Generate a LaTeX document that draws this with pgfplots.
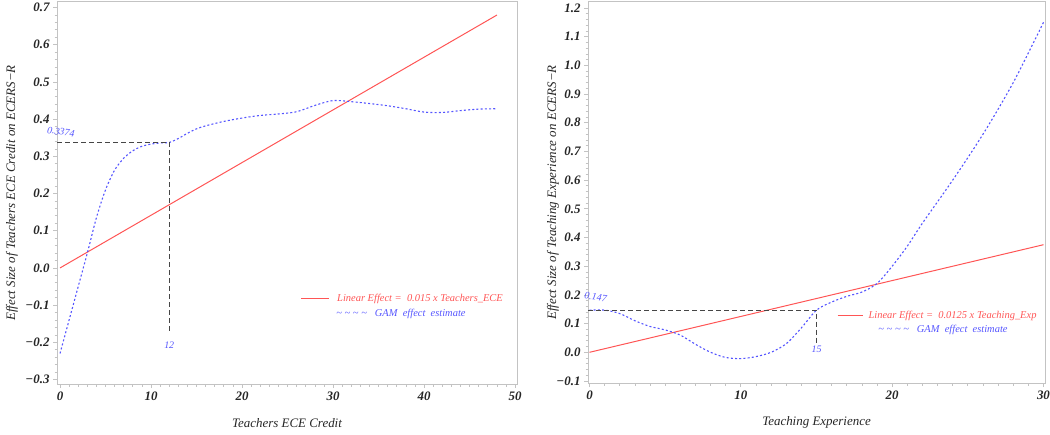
\documentclass[border=0pt]{standalone}
\usepackage{fontspec}
\setmainfont{Liberation Serif}
\usepackage{pgfplots}
\pgfplotsset{compat=1.18}
\definecolor{lred}{RGB}{255,85,85}
\definecolor{lblue}{RGB}{85,85,255}
\definecolor{framegray}{RGB}{195,195,195}
\definecolor{refgray}{RGB}{70,70,70}

\pgfplotstableread{
x y
0 -0.23
1 -0.14
2 -0.05
3 0.04
4 0.135
5 0.21
6 0.263
7 0.295
8 0.315
9 0.327
10 0.333
11 0.336
12 0.3374
13 0.348
14 0.362
15 0.374
16 0.382
18 0.394
20 0.403
22 0.41
24 0.414
26 0.42
28 0.437
30 0.45
32 0.447
34 0.442
36 0.436
38 0.428
40 0.419
42 0.418
44 0.423
46 0.427
48 0.428
}\gamleft

\pgfplotstableread{
x y
0 0.147
1 0.147
2 0.135
3 0.11
4 0.09
5 0.078
6 0.06
7 0.028
8 0.0
9 -0.018
10 -0.022
11 -0.015
12 0.0
13 0.03
14 0.085
15 0.147
16 0.175
17 0.195
18 0.21
19 0.24
20 0.30
21 0.37
22 0.45
24 0.60
26 0.76
28 0.94
30 1.15
}\gamright

\pgfplotsset{
  sas/.style={
    scale only axis, anchor=south west, clip=false,
    axis line style={framegray, line width=1bp},
    tick style={framegray, line width=0.8bp},
    major tick length=4bp, minor tick length=2.5bp,
    tick align=outside, xtick pos=bottom, ytick pos=left,
    ticklabel style={font=\fontsize{13}{13}\selectfont\bfseries\itshape, text=black!85},
    label style={font=\fontsize{13}{13}\selectfont\itshape, text=black!85},
    xlabel style={at={(axis description cs:0.5,0)}, anchor=center, yshift=-39bp},
    ylabel style={at={(axis description cs:0,0.5)}, anchor=center},
    minor x tick num=9, minor y tick num=4,
  }
}

\begin{document}
\begin{tikzpicture}
\path[use as bounding box] (0,0) rectangle (1050bp,435bp);

\begin{axis}[sas,
  at={(57bp,51bp)}, width=460bp, height=382bp,
  xmin=-0.33, xmax=50.2, ymin=-0.312, ymax=0.715,
  xtick={0,10,20,30,40,50}, xticklabels={0,10,20,30,40,50},
  ytick={-0.3,-0.2,-0.1,0,0.1,0.2,0.3,0.4,0.5,0.6,0.7},
  yticklabels={−0.3,−0.2,−0.1,0.0,0.1,0.2,0.3,0.4,0.5,0.6,0.7},
  xlabel={Teachers ECE Credit},
  ylabel={Effect Size of Teachers ECE Credit on ECERS−R},
  ylabel style={yshift=45bp},
]
\addplot[lred, line width=1bp] coordinates {(0,0) (48,0.68)};
\addplot[lblue, line width=1.1bp, dash pattern=on 2bp off 2.2bp, smooth, tension=0.5] table {\gamleft};
\addplot[refgray, line width=0.9bp, dash pattern=on 5bp off 3bp] coordinates {(-0.33,0.3374) (12,0.3374) (12,-0.175)};
\node[text=lblue, font=\fontsize{10}{10}\selectfont\itshape, rotate=-8] at (axis cs:0.1,0.366) {0.3374};
\node[text=lblue, font=\fontsize{10}{10}\selectfont\itshape] at (axis cs:12,-0.207) {12};
\end{axis}

\begin{axis}[sas,
  at={(588bp,52bp)}, width=457bp, height=381bp,
  xmin=-0.1, xmax=30.1, ymin=-0.107, ymax=1.221,
  xtick={0,10,20,30}, xticklabels={0,10,20,30},
  ytick={-0.1,0,0.1,0.2,0.3,0.4,0.5,0.6,0.7,0.8,0.9,1.0,1.1,1.2},
  yticklabels={−0.1,0.0,0.1,0.2,0.3,0.4,0.5,0.6,0.7,0.8,0.9,1.0,1.1,1.2},
  xlabel={Teaching Experience},
  ylabel={Effect Size of Teaching Experience on ECERS−R},
  ylabel style={yshift=35bp},
]
\addplot[lred, line width=1bp] coordinates {(0,0) (30,0.375)};
\addplot[lblue, line width=1.1bp, dash pattern=on 2bp off 2.2bp, smooth, tension=0.5] table {\gamright};
\addplot[refgray, line width=0.9bp, dash pattern=on 5bp off 3bp] coordinates {(-0.1,0.147) (15,0.147) (15,0.03)};
\node[text=lblue, font=\fontsize{10}{10}\selectfont\itshape, rotate=-8] at (axis cs:0.4,0.192) {0.147};
\node[text=lblue, font=\fontsize{10}{10}\selectfont\itshape] at (axis cs:15,0.01) {15};
\end{axis}

% legends
\node[font=\fontsize{10.5}{10.5}\selectfont\itshape, inner sep=0] at (402bp,136bp)
  {\textcolor{lred}{\rule[0.28em]{28bp}{0.9bp}}\hspace{8bp}\textcolor{lred}{Linear Effect =\ \ 0.015 x Teachers\_ECE}};
\node[font=\fontsize{10.5}{10.5}\selectfont\itshape, inner sep=0] at (401bp,121bp)
  {\textcolor{lblue}{\textasciitilde{} \textasciitilde{} \textasciitilde{} \textasciitilde}\hspace{8bp}\textcolor{lblue}{GAM\ \ effect\ \ estimate}};
\node[font=\fontsize{10.5}{10.5}\selectfont\itshape, inner sep=0] at (937bp,119bp)
  {\textcolor{lred}{\rule[0.28em]{25bp}{0.9bp}}\hspace{6bp}\textcolor{lred}{Linear Effect =\ \ 0.0125 x Teaching\_Exp}};
\node[font=\fontsize{10.5}{10.5}\selectfont\itshape, inner sep=0] at (943bp,105bp)
  {\textcolor{lblue}{\textasciitilde{} \textasciitilde{} \textasciitilde{} \textasciitilde}\hspace{8bp}\textcolor{lblue}{GAM\ \ effect\ \ estimate}};
\end{tikzpicture}
\end{document}
